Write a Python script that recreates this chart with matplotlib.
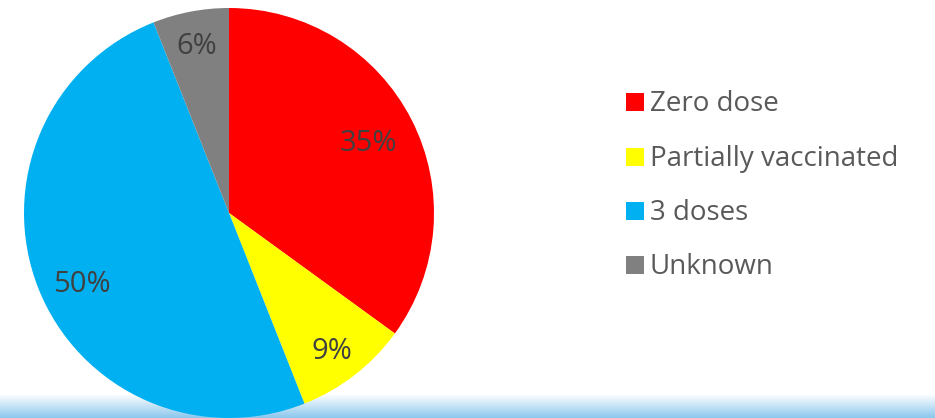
import matplotlib
matplotlib.use("Agg")
import matplotlib.pyplot as plt
import numpy as np
from matplotlib.patches import Rectangle

categories = ["Zero dose", "Partially vaccinated", "3 doses", "Unknown"]
values = [35, 9, 50, 6]
colors = ["#FF0000", "#FFFF00", "#00B0F0", "#808080"]

plt.rcParams['font.family'] = ['Open Sans', 'DejaVu Sans']

W, H = 935, 418
fig = plt.figure(figsize=(W / 100, H / 100), dpi=100)
fig.patch.set_facecolor("white")

# bottom gradient band (slide background)
bg = fig.add_axes([0, 0, 1, 24 / H])
grad = np.linspace(0, 1, 50).reshape(-1, 1)
top = np.array([1.0, 1.0, 1.0])
bot = np.array([0.55, 0.78, 0.93])
img = (grad[..., None] * top + (1 - grad[..., None]) * bot)
img = np.repeat(img, 10, axis=1)
bg.imshow(img, aspect="auto", extent=[0, 1, 0, 1], origin="lower")
bg.set_axis_off()

cx, cy, r = 229, H - 213, 205
ax = fig.add_axes([(cx - r) / W, (cy - r) / H, 2 * r / W, 2 * r / H])
ax.set_facecolor("none")
wedges, texts = ax.pie(values, colors=colors, startangle=90, counterclock=False,
                       radius=1, wedgeprops=dict(linewidth=0))
ax.set_xlim(-1, 1)
ax.set_ylim(-1, 1)
ax.set_aspect("equal")
ax.set_axis_off()

# percentage labels placed from wedge geometry
label_dist = [0.78, 0.82, 0.80, 0.84]
nudge_px = [(-3, 0), (0, -3), (5, -8), (0, 0)]
total = sum(values)
for w, v, d, (nx, ny) in zip(wedges, values, label_dist, nudge_px):
    th = np.deg2rad((w.theta1 + w.theta2) / 2)
    x = d * np.cos(th) + nx / r
    y = d * np.sin(th) + ny / r
    ax.text(x, y - 10.5 / r, f"{v / total * 100:.0f}%", fontsize=21, color="#404040",
            ha="center", va="baseline")

# legend
baselines = [111, 166, 220, 274]
for cat, col, yb in zip(categories, colors, baselines):
    fig.patches.append(Rectangle((626 / W, 1 - yb / H), 18 / W, 18 / H, transform=fig.transFigure,
                                 facecolor=col, edgecolor="none"))
    fig.text(650 / W, 1 - yb / H, cat, fontsize=20, color="#595959", va="baseline", ha="left")

fig.savefig("out.png", dpi=100)
